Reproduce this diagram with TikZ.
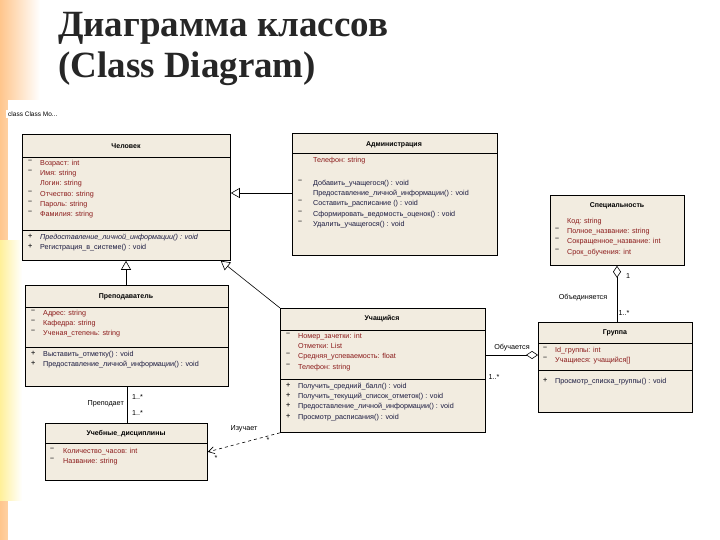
\documentclass[tikz,border=0pt]{standalone}
\usepackage{fontspec}
\setmainfont{Liberation Serif}
\newfontfamily\uml{Liberation Sans}
\usetikzlibrary{arrows.meta,shapes.geometric}
\definecolor{attr}{HTML}{8B1A1A}
\definecolor{meth}{HTML}{1A1A40}
\definecolor{boxfill}{HTML}{F2ECE0}
\tikzset{
 cls/.style={draw=black,line width=0.8pt,fill=boxfill,anchor=north west,inner sep=0pt},
 hdr/.style={font=\uml\fontsize{7}{8}\selectfont\bfseries,anchor=center},
 att/.style={font=\uml\fontsize{7.2}{10.2}\selectfont,color=attr,anchor=north west,align=left,inner sep=0pt},
 mth/.style={font=\uml\fontsize{7.2}{10.2}\selectfont,color=meth,anchor=north west,align=left,inner sep=0pt},
 vis/.style={font=\uml\fontsize{7.2}{10.2}\selectfont\bfseries,color=black!80,anchor=north west,align=left,inner sep=0pt},
 lbl/.style={font=\uml\fontsize{7.2}{8}\selectfont,inner sep=1pt},
 sep/.style={line width=0.6pt},
 gen/.style={line width=0.6pt,-{Triangle[open,length=9pt,width=10pt]}},
 agg/.style={line width=0.6pt,{Diamond[open,length=12pt,width=8pt]}-},
 dep/.style={line width=0.6pt,dashed,-{Straight Barb[length=6pt,width=7pt]}},
}
\begin{document}
\begin{tikzpicture}[x=1pt,y=-1pt]
\useasboundingbox (0,0) rectangle (720,540);
\shade[left color=orange!45,right color=white] (0,0) rectangle (40,540);
\fill[white] (8,100) rectangle (720,540);
\shade[left color=orange!30!yellow!40,right color=white] (0,240) rectangle (22,500);
% title
\node[anchor=north west,font=\fontsize{37}{41}\selectfont\bfseries,align=left,inner sep=0pt,color=black!85] (title) at (58,12) {Диаграмма классов\\(Class Diagram)};
\node[anchor=west,font=\uml\fontsize{6.5}{7}\selectfont,fill=white,inner sep=2pt] (tag) at (6,114) {class Class Mo...};

% Человек
\node[cls,minimum width=208,minimum height=126] (chel) at (22,134) {};
\node[hdr] (chelh) at (126,146) {Человек};
\draw[sep] (22,157) -- (230,157); \draw[sep] (22,230) -- (230,230);
\node[vis] (chelv) at (28,160) {–\\–\\\phantom{–}\\–\\–\\–};
\node[att] (chela) at (40,160) {Возраст: int\\Имя: string\\Логин: string\\Отчество: string\\Пароль: string\\Фамилия: string};
\node[vis] (chelmv) at (28,234) {+\\+};
\node[mth] (chelm) at (40,234) {\itshape Предоставление\_личной\_информации() : void\\Регистрация\_в\_системе() : void};

% Администрация
\node[cls,minimum width=205,minimum height=122] (adm) at (292,133) {};
\node[hdr] (admh) at (394,145) {Администрация};
\draw[sep] (292,153) -- (497,153);
\node[att] (adma) at (313,157) {Телефон: string};
\node[vis] (admv) at (298,180) {–\\\phantom{–}\\–\\–\\–};
\node[mth] (admm) at (313,180) {Добавить\_учащегося() : void\\Предоставление\_личной\_информации() : void\\Составить\_расписание () : void\\Сформировать\_ведомость\_оценок() : void\\Удалить\_учащегося() : void};

% Специальность
\node[cls,minimum width=134,minimum height=70] (spec) at (550,195) {};
\node[hdr] (spech) at (617,206) {Специальность};
\node[vis] (specv) at (555,218) {\phantom{–}\\–\\–\\–};
\node[att] (speca) at (567,218) {Код: string\\Полное\_название: string\\Сокращенное\_название: int\\Срок\_обучения: int};

% Группа
\node[cls,minimum width=154,minimum height=90] (grp) at (538,322) {};
\node[hdr] (grph) at (615,333) {Группа};
\draw[sep] (538,343) -- (692,343); \draw[sep] (538,370) -- (692,370);
\node[vis] (grpv) at (543,347) {–\\–};
\node[att] (grpa) at (555,347) {Id\_группы: int\\Учащиеся: учащийся[]};
\node[vis] (grpmv) at (543,378) {+};
\node[mth] (grpm) at (555,378) {Просмотр\_списка\_группы() : void};

% Преподаватель
\node[cls,minimum width=203,minimum height=101] (prep) at (25,285) {};
\node[hdr] (preph) at (126,297) {Преподаватель};
\draw[sep] (25,307) -- (228,307); \draw[sep] (25,347) -- (228,347);
\node[vis] (prepv) at (31,310) {–\\–\\–};
\node[att] (prepa) at (43,310) {Адрес: string\\Кафедра: string\\Ученая\_степень: string};
\node[vis] (prepmv) at (31,351) {+\\+};
\node[mth] (prepm) at (43,351) {Выставить\_отметку() : void\\Предоставление\_личной\_информации() : void};

% Учащийся
\node[cls,minimum width=205,minimum height=124] (uch) at (280,308) {};
\node[hdr] (uchh) at (382,319) {Учащийся};
\draw[sep] (280,330) -- (485,330); \draw[sep] (280,379) -- (485,379);
\node[vis] (uchv) at (286,333) {–\\\phantom{–}\\–\\–};
\node[att] (ucha) at (298,333) {Номер\_зачетки: int\\Отметки: List\\Средняя\_успеваемость: float\\Телефон: string};
\node[vis] (uchmv) at (286,383) {+\\+\\+\\+};
\node[mth] (uchm) at (298,383) {Получить\_средний\_балл() : void\\Получить\_текущий\_список\_отметок() : void\\Предоставление\_личной\_информации() : void\\Просмотр\_расписания() : void};

% Учебные дисциплины
\node[cls,minimum width=162,minimum height=57] (disc) at (45,423) {};
\node[hdr] (disch) at (126,434) {Учебные\_дисциплины};
\draw[sep] (45,443) -- (207,443);
\node[vis] (discv) at (50,448) {–\\–};
\node[att] (disca) at (63,448) {Количество\_часов: int\\Название: string};

% connectors
\draw[gen] (adm.west |- 0,193) -- (chel.east |- 0,193);
\draw[gen] (prep.north -| 126,0) -- (chel.south -| 126,0);
\draw[gen] (uch.north west) -- ([xshift=-10pt]chel.south east);
\draw[agg] (spec.south -| 617,0) -- (grp.north -| 617,0);
\node[lbl] (l1) at (628,276) {1};
\node[lbl] (l2) at (583,298) {Объединяется};
\node[lbl] (l3) at (624,313) {1..*};
\draw[agg] (grp.west |- 0,355) -- (uch.east |- 0,355);
\node[lbl] (l4) at (512,348) {Обучается};
\node[lbl] (l5) at (494,377) {1..*};
\draw[line width=0.6pt] (prep.south -| 127,0) -- (disc.north -| 127,0);
\node[lbl,anchor=east] (l6) at (125,404) {Преподает};
\node[lbl,anchor=west] (l7) at (131,397) {1..*};
\node[lbl,anchor=west] (l8) at (131,413) {1..*};
\draw[dep] (uch.south west) -- (disc.east);
\node[lbl] (l9) at (244,429) {Изучает};
\node[lbl] (l10) at (268,440) {*};
\node[lbl] (l11) at (216,458) {*};
\end{tikzpicture}
\end{document}
